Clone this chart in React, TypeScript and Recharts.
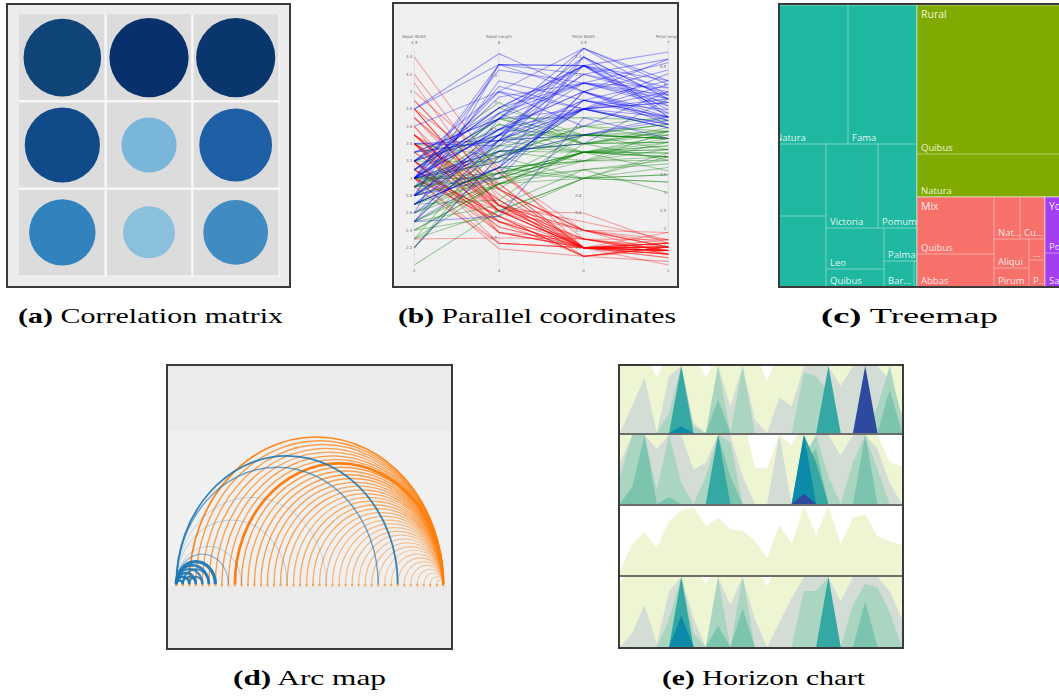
import React from 'react';
import {
  ScatterChart, Scatter, XAxis, YAxis, ReferenceArea, ReferenceLine, ReferenceDot,
  LineChart, Line, Treemap, AreaChart, Area,
} from 'recharts';

// ================= (a) Correlation matrix =================
const corrRow = [0, 0, 0, 1, 1, 1, 2, 2, 2];
const corrCol = [0, 1, 2, 0, 1, 2, 0, 1, 2];
const corrValue = [0.97, 0.99, 0.99, 0.94, 0.69, 0.91, 0.83, 0.65, 0.81];
const corrColor = ['#0f4479', '#08306b', '#09366d', '#114a89', '#7ab6d9', '#1e5fa5', '#3282bd', '#8bc0dd', '#408bc1'];
const CORR_MAX_RADIUS = 40;
const corrData = corrValue.map((v, i) => ({ col: corrCol[i], row: corrRow[i], v, color: corrColor[i] }));

const CorrDot = (p: any) => (
  <circle cx={p.cx} cy={p.cy} r={Math.abs(p.payload.v) * CORR_MAX_RADIUS} fill={p.payload.color} />
);

const CorrelationMatrix = () => (
  <ScatterChart width={282} height={283} margin={{ top: 10, right: 11, bottom: 11, left: 11 }}>
    <XAxis type="number" dataKey="col" domain={[-0.5, 2.5]} hide />
    <YAxis type="number" dataKey="row" domain={[-0.5, 2.5]} reversed hide />
    <ReferenceArea x1={-0.5} x2={2.5} y1={-0.5} y2={2.5} fill="#dcdcdc" fillOpacity={1} stroke="none" />
    <ReferenceLine x={0.5} stroke="#f7f7f7" strokeWidth={2.5} />
    <ReferenceLine x={1.5} stroke="#f7f7f7" strokeWidth={2.5} />
    <ReferenceLine y={0.5} stroke="#f7f7f7" strokeWidth={2.5} />
    <ReferenceLine y={1.5} stroke="#f7f7f7" strokeWidth={2.5} />
    <ReferenceLine x={2.5} stroke="#f7f7f7" strokeWidth={1.2} />
    <ReferenceLine y={2.5} stroke="#f7f7f7" strokeWidth={1.2} />
    <Scatter data={corrData} shape={CorrDot} isAnimationActive={false} />
  </ScatterChart>
);

// ================= (b) Parallel coordinates (iris) =================
// [sepal length, sepal width, petal length, petal width]
const setosa = [
  [5.1,3.5,1.4,0.2],[4.9,3.0,1.4,0.2],[4.7,3.2,1.3,0.2],[4.6,3.1,1.5,0.2],[5.0,3.6,1.4,0.2],
  [5.4,3.9,1.7,0.4],[4.6,3.4,1.4,0.3],[5.0,3.4,1.5,0.2],[4.4,2.9,1.4,0.2],[4.9,3.1,1.5,0.1],
  [5.4,3.7,1.5,0.2],[4.8,3.4,1.6,0.2],[4.8,3.0,1.4,0.1],[4.3,3.0,1.1,0.1],[5.8,4.0,1.2,0.2],
  [5.7,4.4,1.5,0.4],[5.4,3.9,1.3,0.4],[5.1,3.5,1.4,0.3],[5.7,3.8,1.7,0.3],[5.1,3.8,1.5,0.3],
  [5.4,3.4,1.7,0.2],[5.1,3.7,1.5,0.4],[4.6,3.6,1.0,0.2],[5.1,3.3,1.7,0.5],[4.8,3.4,1.9,0.2],
  [5.0,3.0,1.6,0.2],[5.0,3.4,1.6,0.4],[5.2,3.5,1.5,0.2],[5.2,3.4,1.4,0.2],[4.7,3.2,1.6,0.2],
  [4.8,3.1,1.6,0.2],[5.4,3.4,1.5,0.4],[5.2,4.1,1.5,0.1],[5.5,4.2,1.4,0.2],[4.9,3.1,1.5,0.1],
  [5.0,3.2,1.2,0.2],[5.5,3.5,1.3,0.2],[4.9,3.1,1.5,0.1],[4.4,3.0,1.3,0.2],[5.1,3.4,1.5,0.2],
  [5.0,3.5,1.3,0.3],[4.5,2.3,1.3,0.3],[4.4,3.2,1.3,0.2],[5.0,3.5,1.6,0.6],[5.1,3.8,1.9,0.4],
  [4.8,3.0,1.4,0.3],[5.1,3.8,1.6,0.2],[4.6,3.2,1.4,0.2],[5.3,3.7,1.5,0.2],[5.0,3.3,1.4,0.2],
];
const versicolor = [
  [7.0,3.2,4.7,1.4],[6.4,3.2,4.5,1.5],[6.9,3.1,4.9,1.5],[5.5,2.3,4.0,1.3],[6.5,2.8,4.6,1.5],
  [5.7,2.8,4.5,1.3],[6.3,3.3,4.7,1.6],[4.9,2.4,3.3,1.0],[6.6,2.9,4.6,1.3],[5.2,2.7,3.9,1.4],
  [5.0,2.0,3.5,1.0],[5.9,3.0,4.2,1.5],[6.0,2.2,4.0,1.0],[6.1,2.9,4.7,1.4],[5.6,2.9,3.6,1.3],
  [6.7,3.1,4.4,1.4],[5.6,3.0,4.5,1.5],[5.8,2.7,4.1,1.0],[6.2,2.2,4.5,1.5],[5.6,2.5,3.9,1.1],
  [5.9,3.2,4.8,1.8],[6.1,2.8,4.0,1.3],[6.3,2.5,4.9,1.5],[6.1,2.8,4.7,1.2],[6.4,2.9,4.3,1.3],
  [6.6,3.0,4.4,1.4],[6.8,2.8,4.8,1.4],[6.7,3.0,5.0,1.7],[6.0,2.9,4.5,1.5],[5.7,2.6,3.5,1.0],
  [5.5,2.4,3.8,1.1],[5.5,2.4,3.7,1.0],[5.8,2.7,3.9,1.2],[6.0,2.7,5.1,1.6],[5.4,3.0,4.5,1.5],
  [6.0,3.4,4.5,1.6],[6.7,3.1,4.7,1.5],[6.3,2.3,4.4,1.3],[5.6,3.0,4.1,1.3],[5.5,2.5,4.0,1.3],
  [5.5,2.6,4.4,1.2],[6.1,3.0,4.6,1.4],[5.8,2.6,4.0,1.2],[5.0,2.3,3.3,1.0],[5.6,2.7,4.2,1.3],
  [5.7,3.0,4.2,1.2],[5.7,2.9,4.2,1.3],[6.2,2.9,4.3,1.3],[5.1,2.5,3.0,1.1],[5.7,2.8,4.1,1.3],
];
const virginica = [
  [6.3,3.3,6.0,2.5],[5.8,2.7,5.1,1.9],[7.1,3.0,5.9,2.1],[6.3,2.9,5.6,1.8],[6.5,3.0,5.8,2.2],
  [7.6,3.0,6.6,2.1],[4.9,2.5,4.5,1.7],[7.3,2.9,6.3,1.8],[6.7,2.5,5.8,1.8],[7.2,3.6,6.1,2.5],
  [6.5,3.2,5.1,2.0],[6.4,2.7,5.3,1.9],[6.8,3.0,5.5,2.1],[5.7,2.5,5.0,2.0],[5.8,2.8,5.1,2.4],
  [6.4,3.2,5.3,2.3],[6.5,3.0,5.5,1.8],[7.7,3.8,6.7,2.2],[7.7,2.6,6.9,2.3],[6.0,2.2,5.0,1.5],
  [6.9,3.2,5.7,2.3],[5.6,2.8,4.9,2.0],[7.7,2.8,6.7,2.0],[6.3,2.7,4.9,1.8],[6.7,3.3,5.7,2.1],
  [7.2,3.2,6.0,1.8],[6.2,2.8,4.8,1.8],[6.1,3.0,4.9,1.8],[6.4,2.8,5.6,2.1],[7.2,3.0,5.8,1.6],
  [7.4,2.8,6.1,1.9],[7.9,3.8,6.4,2.0],[6.4,2.8,5.6,2.2],[6.3,2.8,5.1,1.5],[6.1,2.6,5.6,1.4],
  [7.7,3.0,6.1,2.3],[6.3,3.4,5.6,2.4],[6.4,3.1,5.5,1.8],[6.0,3.0,4.8,1.8],[6.9,3.1,5.4,2.1],
  [6.7,3.1,5.6,2.4],[6.9,3.1,5.1,2.3],[5.8,2.7,5.1,1.9],[6.8,3.2,5.9,2.3],[6.7,3.3,5.7,2.5],
  [6.7,3.0,5.2,2.3],[6.3,2.5,5.0,1.9],[6.5,3.0,5.2,2.0],[6.2,3.4,5.4,2.3],[5.9,3.0,5.1,1.8],
];
const dimNames = ['Sepal Width', 'Sepal Length', 'Petal Width', 'Petal Length'];
const dimField = [1, 0, 3, 2];
const dimMin = [2, 4, 0, 1];
const dimMax = [4.5, 8, 2.5, 7];
const dimTicks = [
  [2.2, 2.4, 2.6, 2.8, 3, 3.2, 3.4, 3.6, 3.8, 4, 4.2, 4.4],
  [4.5, 5, 5.5, 6, 6.5, 7, 7.5],
  [0.2, 0.4, 0.6, 0.8, 1, 1.2, 1.4, 1.6, 1.8, 2, 2.2, 2.4],
  [1.5, 2, 2.5, 3, 3.5, 4, 4.5, 5, 5.5, 6, 6.5],
];
const speciesColor = ['#ff0000', '#008000', '#0000ff'];

const flowers = [
  ...setosa.map((f) => ({ f, s: 0 })),
  ...versicolor.map((f) => ({ f, s: 1 })),
  ...virginica.map((f) => ({ f, s: 2 })),
];
const norm = (k: number, v: number) => (v - dimMin[k]) / (dimMax[k] - dimMin[k]);
const pcData = dimNames.map((_, k) => {
  const row: any = { k };
  flowers.forEach((fl, j) => { row['s' + j] = norm(k, fl.f[dimField[k]]); });
  return row;
});
const tinyLabel = { fontSize: 4, fill: '#707070', fontFamily: 'DejaVu Sans, sans-serif' };

const ParallelCoords = () => (
  <LineChart width={287} height={286} data={pcData} margin={{ top: 46.3, right: 10.7, bottom: 23, left: 22.3 }}>
    <XAxis type="number" dataKey="k" domain={[0, 3]} hide />
    <YAxis type="number" domain={[0, 1]} hide />
    {dimNames.map((_, k) => (
      <ReferenceLine key={'ax' + k} x={k} stroke="#d4d4d4" strokeWidth={0.7} />
    ))}
    {flowers.map((fl, j) => (
      <Line key={'f' + j} dataKey={'s' + j} type="linear" stroke={speciesColor[fl.s]} strokeOpacity={0.36}
        strokeWidth={1.05} dot={false} activeDot={false} isAnimationActive={false} />
    ))}
    {dimTicks.map((ticks, k) => ticks.map((t) => (
      <ReferenceDot key={'t' + k + '-' + t} x={k} y={norm(k, t)} r={0} fill="none" stroke="none"
        label={{ value: String(t), position: 'left', offset: 2, ...tinyLabel }} />
    )))}
    {dimNames.map((n, k) => (
      <ReferenceDot key={'top' + k} x={k} y={1} r={0} fill="none" stroke="none"
        label={{ value: String(dimMax[k]), position: 'top', offset: 4, ...tinyLabel }} />
    ))}
    {dimNames.map((n, k) => (
      <ReferenceDot key={'ttl' + k} x={k} y={1} r={0} fill="none" stroke="none"
        label={{ value: n, position: 'top', offset: 10, ...tinyLabel }} />
    ))}
    {dimNames.map((n, k) => (
      <ReferenceDot key={'bot' + k} x={k} y={0} r={0} fill="none" stroke="none"
        label={{ value: String(dimMin[k]), position: 'bottom', offset: 4, ...tinyLabel }} />
    ))}
  </LineChart>
);

// ================= (c) Treemap =================
const groupNames = ['Aliquam', 'Rural', 'Mix', 'Yolo'];
const groupColors = ['#1fb8a0', '#7fab00', '#f8706a', '#a33ff0'];
const tealNames = ['Vita', 'Natura', 'Fama', 'Aequor', 'Lumen', 'Victoria', 'Pomum', 'Leo', 'Quibus', 'Palma', 'Bar...', ''];
const tealSizes = [9869, 10703, 9591, 9072, 8946, 4368, 3276, 2378, 1044, 1089, 780, 78];
const ruralNames = ['Quibus', 'Natura'];
const ruralSizes = [27267, 7869];
const mixNames = ['Quibus', 'Abbas', 'Nat...', 'Cu...', 'Aliqui', 'Pirum', '...', 'P...'];
const mixSizes = [4389, 2541, 1092, 1050, 1015, 665, 336, 432];
const yoNames = ['Porta', 'Saepe'];
const yoSizes = [3080, 1870];

const leaf = (names: string[], sizes: number[], i: number) => ({ name: names[i], size: sizes[i], kind: 'leaf' });
const nest = (...children: any[]) => ({ name: 'n', children });
const T = (i: number) => leaf(tealNames, tealSizes, i);
const R = (i: number) => leaf(ruralNames, ruralSizes, i);
const M = (i: number) => leaf(mixNames, mixSizes, i);
const Y = (i: number) => leaf(yoNames, yoSizes, i);
const groupTrees = [
  [nest(T(0), T(1), T(2)),
   nest(nest(T(3), T(4)), nest(nest(T(5), T(6)), nest(nest(T(7), T(8)), nest(T(9), nest(T(10), T(11))))))],
  [R(0), R(1)],
  [nest(M(0), M(1)), nest(nest(M(2), M(3)), nest(nest(M(4), M(5)), nest(M(6), M(7))))],
  [Y(0), Y(1)],
];
const treemapData = groupNames.map((name, g) => ({ name, kind: 'group', color: groupColors[g], children: groupTrees[g] }));

// the treemap is wider than the panel window; labels that fall fully outside the window are not drawn
const WINDOW_LEFT = 80;
const TreemapCell = (p: any) => {
  const { x, y, width, height, kind, color, name } = p;
  const labelVisible = x + 20 > WINDOW_LEFT;
  if (kind === 'group') {
    return (
      <g>
        <rect x={x} y={y} width={width} height={height} fill={color} stroke="rgba(255,255,255,0.35)" strokeWidth={1} />
        {labelVisible ? (
          <text x={x + 4} y={y + 12.5} fontSize={10.5} fill="#ffffff" fillOpacity={0.9} fontFamily="'Open Sans', sans-serif">{name}</text>
        ) : null}
      </g>
    );
  }
  if (kind === 'leaf') {
    return (
      <g>
        <rect x={x} y={y} width={width} height={height} fill="none" stroke="rgba(255,255,255,0.22)" strokeWidth={1} />
        {name && height > 12 && labelVisible ? (
          <text x={x + 4} y={y + height - 3} fontSize={9.5} fill="#ffffff" fillOpacity={0.88} fontFamily="'Open Sans', sans-serif">{name}</text>
        ) : null}
      </g>
    );
  }
  return <g />;
};

const TreemapPanel = () => (
  <Treemap width={400} height={282} data={treemapData} dataKey="size" aspectRatio={0.000001}
    isAnimationActive={false} content={TreemapCell as any} />
);

// ================= (d) Arc map =================
const ARC_RATIO = 1.16;
function arcCurve(ctx: any) {
  let pts: number[][] = [];
  return {
    areaStart() {},
    areaEnd() {},
    lineStart() { pts = []; },
    point(x: number, y: number) { pts.push([x, y]); },
    lineEnd() {
      if (pts.length < 2) return;
      const [x0, y0] = pts[0];
      const x1 = pts[pts.length - 1][0];
      const rx = (x1 - x0) / 2;
      const ry = Math.abs(rx) * ARC_RATIO;
      const cx = x0 + rx;
      const k = 0.5523;
      ctx.moveTo(x0, y0);
      ctx.bezierCurveTo(x0, y0 - k * ry, cx - k * rx, y0 - ry, cx, y0 - ry);
      ctx.bezierCurveTo(cx + k * rx, y0 - ry, x1, y0 - k * ry, x1, y0);
    },
  };
}
const arcNodes = [0,1,2,3,4,5,6,7,8,9,10,11,12,13,14,15,16,17,18,19,20,21,22,23,24,25,26,27,28,29,30,31,32,33,34,35,36,37,38,39,40,41];
const orangeTarget = 41;
const orangeSources = [2,3,4,5,6,7,8,9,10,11,12,13,14,15,16,17,18,19,20,21,22,23,24,25,26,27,28,29,30,31,32,33,34,35,36,37,38,39,40];
const orangeOpacity = [0.95,0.75,0.7,0.75,0.7,0.75,0.7,1,0.75,0.7,0.75,0.7,0.7,0.65,0.7,0.65,0.6,0.65,0.6,0.6,0.55,0.55,0.5,0.5,0.45,0.5,0.45,0.45,0.5,0.45,0.4,0.4,0.45,0.4,0.4,0.4,0.35,0.35,0.35];
const orangeWidth = [1.7,1.35,1.35,1.35,1.35,1.35,1.35,2.7,1.35,1.35,1.35,1.35,1.35,1.35,1.3,1.3,1.3,1.3,1.3,1.3,1.25,1.25,1.25,1.25,1.2,1.2,1.2,1.2,1.2,1.2,1.1,1.1,1.1,1.1,1.1,1.1,1.1,1.1,1.1];
const blueSource = [0,0,0,0,0,0,1,1,2,0,0,0,0,0,0];
const blueTarget = [1,2,3,4,5,6,3,5,4,8,10,17,23,31,34];
const blueWidth = [2.6,2.6,2.6,2.3,2.6,3.3,1.9,2.1,1.9,1.1,0.9,0.9,0.9,1.4,1.8];
const blueOpacity = [0.95,0.95,0.9,0.85,0.9,0.95,0.85,0.85,0.85,0.5,0.3,0.3,0.25,0.65,0.9];
const ORANGE = '#ff7f0e';
const BLUE = '#1f77b4';
const nodeData = arcNodes.map((n) => ({ x: n, y: 0 }));
const NodeDot = (p: any) => (
  <rect key={'nd' + p.index} x={p.cx - 1} y={p.cy - 0.5} width={2} height={2.5} fill={ORANGE} fillOpacity={0.7} />
);

const ArcMap = () => (
  <LineChart width={283} height={282} margin={{ top: 60, right: 7.7, bottom: 63.7, left: 8.3 }}>
    <XAxis type="number" dataKey="x" domain={[0, 41]} hide />
    <YAxis type="number" domain={[0, 1]} hide />
    {orangeSources.map((s, i) => (
      <Line key={'o' + i} data={[{ x: s, y: 0 }, { x: orangeTarget, y: 0 }]} dataKey="y" type={arcCurve as any}
        stroke={ORANGE} strokeOpacity={orangeOpacity[i]} strokeWidth={orangeWidth[i]} dot={false} activeDot={false}
        isAnimationActive={false} />
    ))}
    {blueSource.map((s, i) => (
      <Line key={'b' + i} data={[{ x: s, y: 0 }, { x: blueTarget[i], y: 0 }]} dataKey="y" type={arcCurve as any}
        stroke={BLUE} strokeOpacity={blueOpacity[i]} strokeWidth={blueWidth[i]} dot={false} activeDot={false}
        isAnimationActive={false} />
    ))}
    <Line data={nodeData} dataKey="y" stroke="none" dot={NodeDot} activeDot={false} isAnimationActive={false} />
  </LineChart>
);

// ================= (e) Horizon chart =================
const horizonColors = ['#eef5d2', '#d3ddd5', '#a9d5c1', '#7cc4ae', '#36a8a4', '#0c8aa9', '#2e4a9f'];
const h1Yellow = [120,120,120,83,120,120,120,83,120,120,120,120,78,120,120,120,120,120,120,120,120,120,120,120];
const h1Gray   = [0,41,83,0,85,100,15,0,100,40,100,20,0,53,40,100,100,100,70,100,100,100,80,30];
const h1Mint   = [0,0,0,0,30,100,10,0,100,0,100,0,0,0,0,90,85,60,0,0,0,40,100,20];
const h1Sea    = [0,0,0,0,0,0,0,0,50,0,0,0,0,0,0,0,0,0,0,0,0,0,65,0];
const h1Teal   = [0,0,0,0,0,100,0,0,0,0,0,0,0,0,0,0,0,100,0,0,0,0,0,0];
const h1Ocean  = [0,0,0,0,0,10,0,0,0,0,0,0,0,0,0,0,0,0,0,0,0,0,0,0];
const h1Navy   = [0,0,0,0,0,0,0,0,0,0,0,0,0,0,0,0,0,0,0,0,100,0,0,0];

const h2Yellow = [120,120,120,120,120,120,120,120,120,120,130,52,52,100,85,120,120,120,120,120,120,100,60,55];
const h2Gray   = [60,100,100,80,100,100,50,60,100,100,40,0,0,100,0,60,100,100,70,100,100,80,30,0];
const h2Mint   = [40,100,100,20,100,30,0,40,100,90,0,0,0,0,0,70,100,40,0,60,100,50,0,0];
const h2Sea    = [0,25,100,0,10,0,0,0,100,40,0,0,0,0,0,60,80,0,0,0,100,0,0,0];
const h2Teal   = [0,0,0,0,0,0,0,0,100,0,0,0,0,0,0,100,60,0,0,0,0,0,0,0];
const h2Ocean  = [0,0,0,0,0,0,0,0,0,0,0,0,0,0,0,100,0,0,0,0,0,0,0,0];
const h2Navy   = [0,0,0,0,0,0,0,0,0,0,0,0,0,0,0,15,0,0,0,0,0,0,0,0];

const h3Yellow = [5,45,62,39,78,93,98,71,83,66,64,50,24,72,45,100,58,100,45,83,88,56,49,44];

const h4Yellow = [90,120,120,120,120,120,120,90,120,120,120,120,87,120,120,120,120,120,120,120,120,120,120,120];
const h4Gray   = [0,20,60,5,80,100,40,0,100,60,100,40,0,35,70,100,100,100,65,100,100,100,80,40];
const h4Mint   = [0,0,0,0,40,100,20,0,100,0,100,0,0,0,0,80,80,100,0,60,90,85,50,0];
const h4Sea    = [0,0,0,0,0,0,0,0,30,0,55,0,0,0,0,0,0,0,0,0,65,0,0,0];
const h4Teal   = [0,0,0,0,0,100,0,0,0,0,0,0,0,0,0,0,0,100,0,0,0,0,0,0];
const h4Ocean  = [0,0,0,0,0,45,0,0,0,0,0,0,0,0,0,0,0,0,0,0,0,0,0,0];

const horizonRows = [
  [h1Yellow, h1Gray, h1Mint, h1Sea, h1Teal, h1Ocean, h1Navy],
  [h2Yellow, h2Gray, h2Mint, h2Sea, h2Teal, h2Ocean, h2Navy],
  [h3Yellow],
  [h4Yellow, h4Gray, h4Mint, h4Sea, h4Teal, h4Ocean],
];
const horizonData = horizonRows.map((layers) =>
  layers[0].map((_, i) => {
    const row: any = { i };
    layers.forEach((arr, k) => { row['l' + k] = arr[i]; });
    return row;
  })
);

const HorizonRow = ({ r, height }: { r: number; height: number }) => (
  <AreaChart width={282} height={height} data={horizonData[r]} margin={{ top: 0, right: 0, bottom: 0, left: 0 }}>
    <XAxis type="number" dataKey="i" domain={[0, 23]} hide />
    <YAxis type="number" domain={[0, 100]} allowDataOverflow hide />
    {horizonRows[r].map((_, k) => (
      <Area key={'l' + k} dataKey={'l' + k} type="linear" stroke="none" fill={horizonColors[k]} fillOpacity={1}
        dot={false} activeDot={false} isAnimationActive={false} />
    ))}
  </AreaChart>
);

// ================= Page =================
const frame: React.CSSProperties = {
  position: 'absolute', boxSizing: 'border-box', border: '2px solid #3a3a3a', pointerEvents: 'none',
};
const abs = (left: number, top: number, extra: React.CSSProperties = {}): React.CSSProperties => ({
  position: 'absolute', left, top, ...extra,
});

export default function App() {
  return (
    <div style={{ position: 'absolute', left: 0, top: 0, width: 1059, height: 697, overflow: 'hidden', background: '#ffffff' }}>
      {/* (a) */}
      <div style={abs(6, 3, { width: 285, height: 285, background: '#ececec' })} />
      <div style={abs(8, 4)}><CorrelationMatrix /></div>
      <div style={{ ...frame, left: 6, top: 3, width: 285, height: 285 }} />

      {/* (b) */}
      <div style={abs(392, 2, { width: 287, height: 286, background: '#f0f0f0' })} />
      <div style={abs(392, 2, { width: 287, height: 286, overflow: 'hidden' })}><ParallelCoords /></div>
      <div style={{ ...frame, left: 392, top: 2, width: 287, height: 286 }} />

      {/* (c) */}
      <div style={abs(780, 5, { width: 279, height: 281, overflow: 'hidden' })}>
        <div style={abs(-WINDOW_LEFT, 0)}><TreemapPanel /></div>
      </div>
      <div style={{ ...frame, left: 778, top: 3, width: 320, height: 285 }} />

      {/* (d) */}
      <div style={abs(166, 364, { width: 287, height: 286, background: '#ebebeb' })} />
      <div style={abs(168, 430, { width: 283, height: 156, background: '#f0f0f0' })} />
      <div style={abs(168, 366)}><ArcMap /></div>
      <div style={{ ...frame, left: 166, top: 364, width: 287, height: 286 }} />

      {/* (e) */}
      <div style={abs(618, 364, { width: 286, height: 285, background: '#ffffff' })} />
      <div style={abs(620, 366)}><HorizonRow r={0} height={67} /></div>
      <div style={abs(620, 435)}><HorizonRow r={1} height={69} /></div>
      <div style={abs(620, 506)}><HorizonRow r={2} height={69} /></div>
      <div style={abs(620, 577)}><HorizonRow r={3} height={70} /></div>
      <div style={abs(620, 433, { width: 282, height: 2, background: '#6e6e6e' })} />
      <div style={abs(620, 504, { width: 282, height: 2, background: '#6e6e6e' })} />
      <div style={abs(620, 575, { width: 282, height: 2, background: '#6e6e6e' })} />
      <div style={{ ...frame, left: 618, top: 364, width: 286, height: 285 }} />

      {/* captions */}
      <svg width={1059} height={697} style={{ position: 'absolute', left: 0, top: 0, pointerEvents: 'none' }}>
        <g fontFamily="'Liberation Serif', 'DejaVu Serif', serif" fontSize={21} fill="#000000">
          <text x={18} y={323} textLength={265} lengthAdjust="spacingAndGlyphs"><tspan fontWeight="bold">(a)</tspan> Correlation matrix</text>
          <text x={398} y={323} textLength={278} lengthAdjust="spacingAndGlyphs"><tspan fontWeight="bold">(b)</tspan> Parallel coordinates</text>
          <text x={821} y={323} textLength={177} lengthAdjust="spacingAndGlyphs"><tspan fontWeight="bold">(c)</tspan> Treemap</text>
          <text x={233} y={685} textLength={153} lengthAdjust="spacingAndGlyphs"><tspan fontWeight="bold">(d)</tspan> Arc map</text>
          <text x={662} y={685} textLength={203} lengthAdjust="spacingAndGlyphs"><tspan fontWeight="bold">(e)</tspan> Horizon chart</text>
        </g>
      </svg>
    </div>
  );
}
